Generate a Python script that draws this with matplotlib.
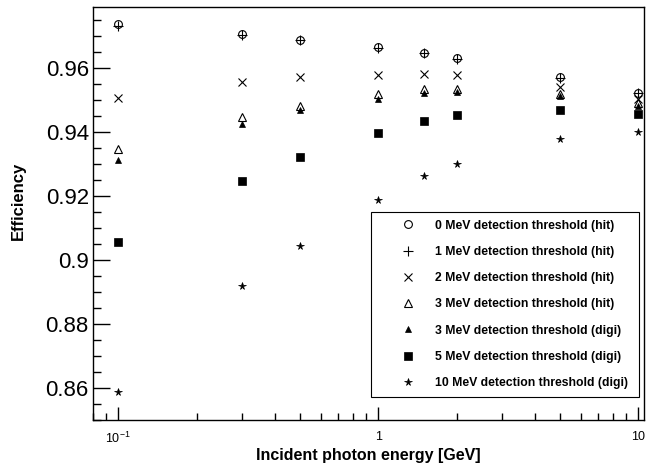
import matplotlib
matplotlib.use("Agg")
import matplotlib.pyplot as plt
from matplotlib.ticker import FixedLocator, FixedFormatter, MultipleLocator, FuncFormatter

# photon energies [GeV]
energy = [0.1, 0.3, 0.5, 1, 1.5, 2, 5, 10]

# efficiency per threshold
eff_0mev_hit = [0.9735, 0.9706, 0.9688, 0.9664, 0.9647, 0.9630, 0.9571, 0.9522]
eff_1mev_hit = [0.9730, 0.9703, 0.9686, 0.9662, 0.9645, 0.9628, 0.9569, 0.9520]
eff_2mev_hit = [0.9505, 0.9554, 0.9570, 0.9576, 0.9581, 0.9576, 0.9541, 0.9501]
eff_3mev_hit = [0.9345, 0.9447, 0.9482, 0.9517, 0.9532, 0.9534, 0.9519, 0.9491]
eff_3mev_digi = [0.9313, 0.9423, 0.9467, 0.9503, 0.9522, 0.9524, 0.9511, 0.9482]
eff_5mev_digi = [0.9057, 0.9246, 0.9322, 0.9397, 0.9433, 0.9451, 0.9467, 0.9456]
eff_10mev_digi = [0.8588, 0.8918, 0.9043, 0.9188, 0.9261, 0.9300, 0.9378, 0.9399]

labels = [
    "0 MeV detection threshold (hit)",
    "1 MeV detection threshold (hit)",
    "2 MeV detection threshold (hit)",
    "3 MeV detection threshold (hit)",
    "3 MeV detection threshold (digi)",
    "5 MeV detection threshold (digi)",
    "10 MeV detection threshold (digi)",
]

x_tick_vals = [0.1, 1, 10]
x_tick_labels = [r"$\mathregular{10^{-1}}$", "1", "10"]
y_tick_vals = [0.86, 0.88, 0.90, 0.92, 0.94, 0.96]

plt.rcParams['font.family'] = ['Liberation Sans', 'DejaVu Sans']


def main():
    fig = plt.figure(figsize=(6.46, 4.74), dpi=100)
    ax = fig.add_axes([0.144, 0.114, 0.853, 0.8715])

    series = [eff_0mev_hit, eff_1mev_hit, eff_2mev_hit, eff_3mev_hit,
              eff_3mev_digi, eff_5mev_digi, eff_10mev_digi]
    # (marker, size, filled)
    styles = [("o", 5.6, False), ("+", 7.0, False), ("x", 5.5, False),
              ("^", 5.6, False), ("^", 5.0, True), ("s", 5.2, True), ("*", 5.5, True)]

    for vals, lab, (m, ms, filled) in zip(series, labels, styles):
        if filled:
            ax.plot(energy, vals, ls="none", marker=m, ms=ms, color="black",
                    mec="black", mew=0.5, label=lab)
        else:
            ax.plot(energy, vals, ls="none", marker=m, ms=ms, mfc="none",
                    mec="black", mew=0.8, label=lab)

    ax.set_xscale("log")
    ax.set_xlim(0.08, 10.52)
    ax.set_ylim(0.85, 0.979)

    # x axis ticks like ROOT
    ax.xaxis.set_major_locator(FixedLocator(x_tick_vals))
    ax.xaxis.set_major_formatter(FixedFormatter(x_tick_labels))
    minors = [k * d for d in [0.01, 0.1, 1] for k in range(2, 10)]
    ax.xaxis.set_minor_locator(FixedLocator(minors))
    ax.xaxis.set_minor_formatter(FixedFormatter([""] * len(minors)))

    ax.yaxis.set_major_locator(FixedLocator(y_tick_vals))
    ax.yaxis.set_major_formatter(FuncFormatter(lambda v, p: f"{v:g}"))
    ax.yaxis.set_minor_locator(MultipleLocator(0.005))

    ax.tick_params(axis="both", which="both", direction="in", top=False, right=False, width=1.0)
    ax.tick_params(axis="y", which="major", length=12, labelsize=16, pad=3)
    ax.tick_params(axis="y", which="minor", length=6)
    ax.tick_params(axis="x", which="major", length=9.5, labelsize=9, pad=8)
    ax.tick_params(axis="x", which="minor", length=5)

    for s in ax.spines.values():
        s.set_linewidth(1.0)

    ax.set_xlabel("Incident photon energy [GeV]", fontsize=11.5, fontweight="bold", labelpad=1)
    ax.set_ylabel("Efficiency", fontsize=12, fontweight="bold")
    ax.yaxis.set_label_coords(-0.122, 0.53)

    leg = ax.legend(loc="lower left", bbox_to_anchor=(0.5045, 0.0564, 0.4865, 0.4446),
                    mode="expand", prop={"size": 8.8, "weight": "bold"},
                    frameon=True, fancybox=False, edgecolor="black", framealpha=1,
                    borderpad=0.6, labelspacing=1.17, handlelength=4.82,
                    handletextpad=-0.17, borderaxespad=0, numpoints=1)
    leg.get_frame().set_linewidth(0.8)

    fig.savefig("out.png", dpi=100)


if __name__ == "__main__":
    main()
